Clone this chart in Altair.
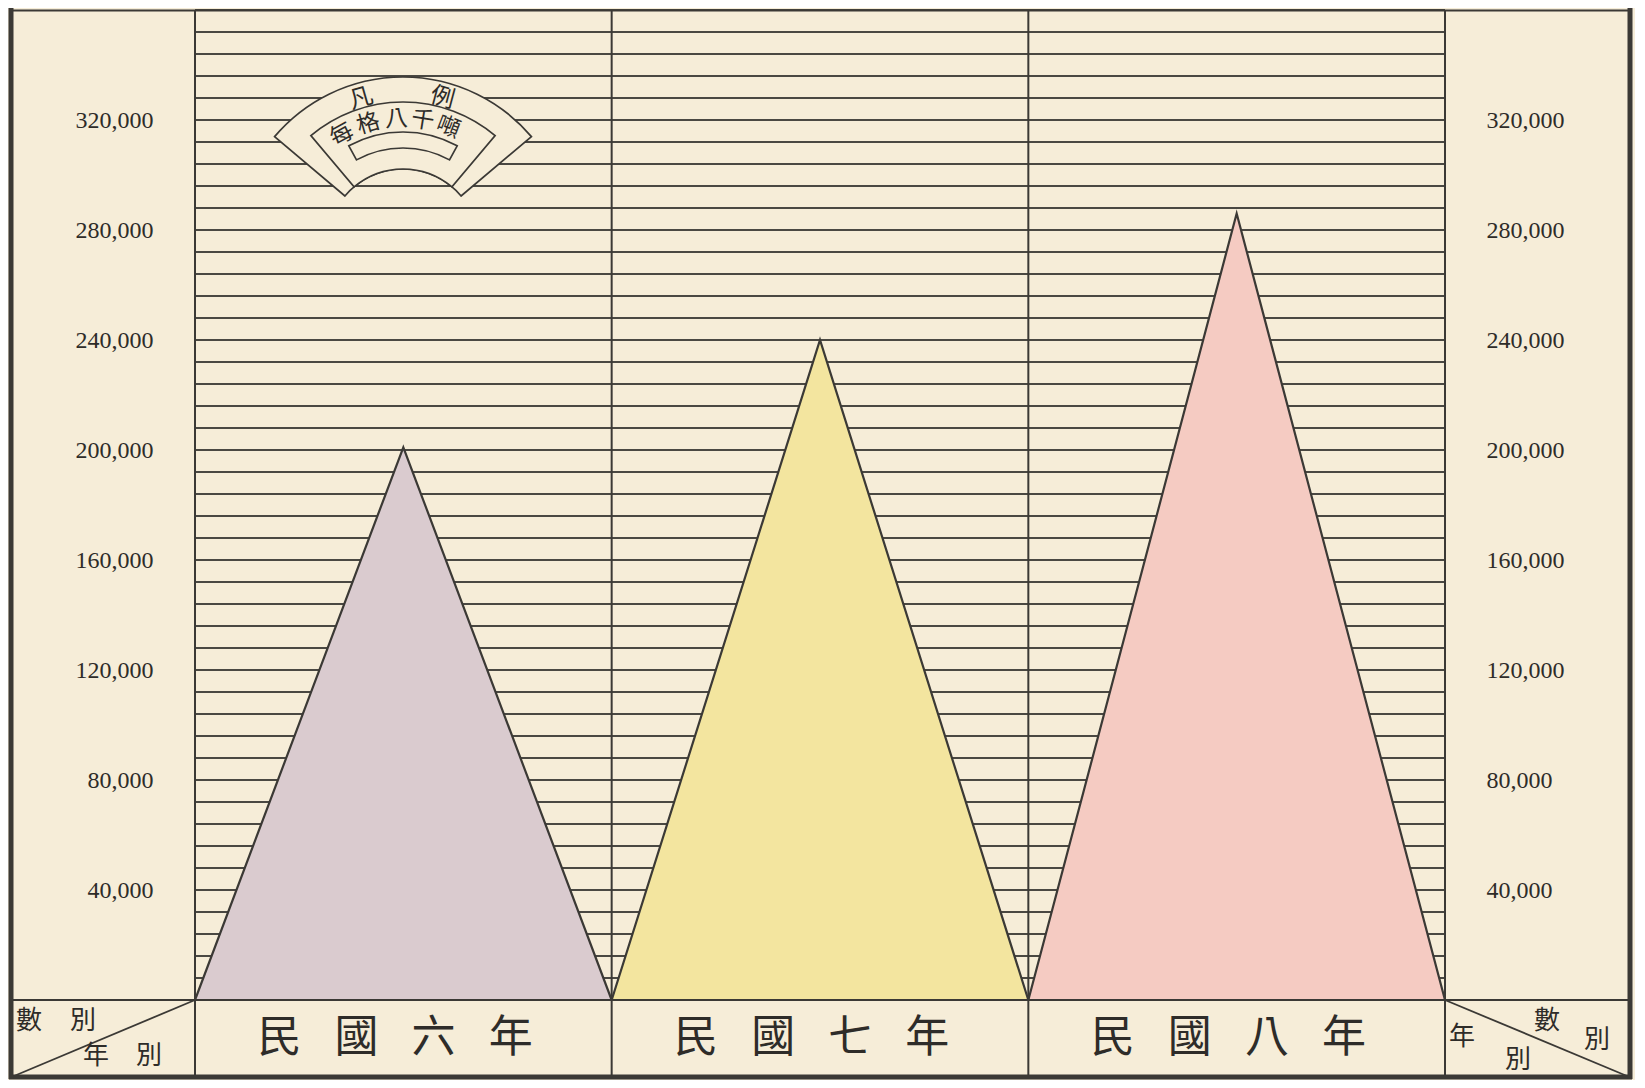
import math
import altair as alt
import pandas as pd

# ---- data ----
years = ["民國六年", "民國七年", "民國八年"]
tonnage = [201000, 240000, 286000]
fill_colors = ["#dacbcf", "#f3e59f", "#f5cbc2"]
axis_labels = [40000, 80000, 120000, 160000, 200000, 240000, 280000, 320000]
grid_values = list(range(8000, 360001, 8000))
legend_title = ["凡", "例"]
legend_text = list("每格八千噸")

# ---- layout ----
W, H = 1250, 990
YMAX = 360000
BOTTOM = 1066
LEFT_EDGE, RIGHT_EDGE = -184, 1435
BG = "#f6edd8"
INK = "#3b3935"
TEXT_INK = "#2e2c29"
CJK = "Noto Sans CJK TC"

xs = alt.Scale(domain=[0, 3], nice=False, zero=False)
ys = alt.Scale(domain=[0, YMAX], nice=False, zero=True)

grid = alt.Chart(pd.DataFrame({"v": grid_values})).mark_rule(
    color=INK, strokeWidth=1.9, opacity=0.92
).encode(
    y=alt.Y("v:Q", scale=ys, axis=None),
    x=alt.value(0), x2=alt.value(W),
)

axis_common = dict(values=axis_labels, format=",d", domain=False, ticks=False,
                   grid=False, labelFont="Liberation Serif", labelFontSize=24,
                   labelColor=TEXT_INK, title=None)
left_axis = alt.Chart(pd.DataFrame({"v": axis_labels})).mark_point(opacity=0).encode(
    y=alt.Y("v:Q", scale=ys, axis=alt.Axis(orient="left", labelPadding=42, **axis_common)),
)
right_axis = alt.Chart(pd.DataFrame({"v": axis_labels})).mark_point(opacity=0).encode(
    y=alt.Y("v:Q", scale=ys, axis=alt.Axis(orient="right", labelPadding=41, **axis_common)),
)

# one polygon per year: left foot, apex, right foot (built from the arrays)
triangles = []
for i, (yr, v, col) in enumerate(zip(years, tonnage, fill_colors)):
    df = pd.DataFrame({
        "pos": [float(i), i + 0.5, float(i + 1)],
        "ton": [0.0, float(v), 0.0],
    })
    base = alt.Chart(df).encode(
        x=alt.X("pos:Q", scale=xs, axis=None),
        y=alt.Y("ton:Q", scale=ys, axis=None),
    )
    triangles.append(base.mark_area(fill=col, fillOpacity=1, line=False))
    triangles.append(base.mark_line(color=INK, strokeWidth=2.2))

# column separators (through the bottom band)
vlines = alt.Chart(pd.DataFrame({"c": [0, 1, 2, 3]})).mark_rule(
    color=INK, strokeWidth=2
).encode(
    x=alt.X("c:Q", scale=xs, axis=None),
    y=alt.value(0), y2=alt.value(BOTTOM),
)

# bottom year labels, one character at a time
lab_rows = []
for i, yr in enumerate(years):
    for k, ch in enumerate(yr):
        lab_rows.append({"ch": ch, "lx": i + 0.48 + (k - 1.5) * 0.185})
year_labels = alt.Chart(pd.DataFrame(lab_rows)).mark_text(
    font=CJK, fontSize=44, color=TEXT_INK, baseline="middle", align="center"
).encode(
    x=alt.X("lx:Q", scale=xs, axis=None),
    y=alt.value(1029),
    text="ch:N",
)

def seg(x1, y1, x2, y2, w):
    return alt.Chart(pd.DataFrame({"a": [0]})).mark_rule(color=INK, strokeWidth=w).encode(
        x=alt.value(x1), x2=alt.value(x2), y=alt.value(y1), y2=alt.value(y2))

frame = [
    seg(LEFT_EDGE - 2, 0.5, RIGHT_EDGE + 2, 0.5, 1.8),
    seg(LEFT_EDGE, H, RIGHT_EDGE, H, 2.2),
    seg(LEFT_EDGE - 2, BOTTOM + 1, RIGHT_EDGE + 2, BOTTOM + 1, 5),
    seg(LEFT_EDGE, -2, LEFT_EDGE, BOTTOM + 3, 5),
    seg(RIGHT_EDGE, -2, RIGHT_EDGE, BOTTOM + 3, 5),
    seg(0, H, LEFT_EDGE + 3, BOTTOM, 1.8),
    seg(W, H, RIGHT_EDGE - 3, BOTTOM, 1.8),
]

def txt(ch, x, y, size=26, angle=0, font=CJK):
    return alt.Chart(pd.DataFrame({"a": [0]})).mark_text(
        text=ch, font=font, fontSize=size, color=TEXT_INK, angle=angle % 360,
        align="center", baseline="middle",
    ).encode(x=alt.value(x), y=alt.value(y))

corner_text = [
    txt("數", -166, 1011), txt("別", -112, 1011),
    txt("年", -99, 1046), txt("別", -46, 1046),
    txt("年", 1267, 1027), txt("數", 1352, 1011),
    txt("別", 1402, 1030), txt("別", 1323, 1050),
]

# legend fan
CX, CY = 208, 235
def arc(r_out, r_in, half, fill):
    return alt.Chart(pd.DataFrame({"a": [0]})).mark_arc(
        fill=fill, stroke=INK, strokeWidth=1.7
    ).encode(
        x=alt.value(CX), y=alt.value(CY),
        theta=alt.value(2 * math.pi - half), theta2=alt.value(2 * math.pi + half),
        radius=alt.value(r_out), radius2=alt.value(r_in),
    )

fan = [
    arc(168, 76, 0.87, BG),
    arc(143, 76, 0.70, BG),
    arc(113, 97, 0.50, BG),
]
fan_text = []
for ch, a in zip(legend_title, [-16, 15]):
    r = math.radians(a)
    fan_text.append(txt(ch, CX + 152 * math.sin(r), CY - 152 * math.cos(r), size=24, angle=a))
for ch, a in zip(legend_text, [-29, -16, -3, 9, 21]):
    r = math.radians(a)
    fan_text.append(txt(ch, CX + 126 * math.sin(r), CY - 126 * math.cos(r), size=23, angle=a))

chart = alt.layer(
    grid, left_axis, right_axis, *triangles, vlines, year_labels,
    *frame, *corner_text, *fan, *fan_text,
).properties(
    width=W, height=H,
    autosize=alt.AutoSizeParams(type="none"),
    padding={"left": 187, "top": 2, "right": 190, "bottom": 80},
    background=BG,
).configure_view(stroke=None)

chart.save("out.html", embed_options={"renderer": "svg", "actions": False})
